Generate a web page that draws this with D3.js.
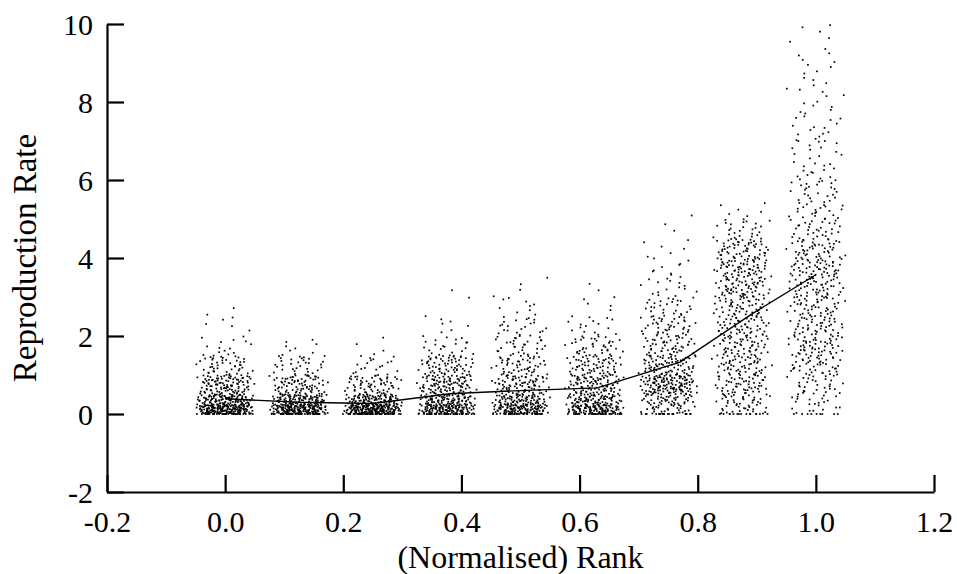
<!DOCTYPE html>
<html>
<head>
<meta charset="utf-8">
<script src="https://cdn.jsdelivr.net/npm/d3@7"></script>
<style>
  body { margin: 0; background: #fff; }
  text { font-family: "Liberation Serif", "DejaVu Serif", serif; fill: #000; }
</style>
</head>
<body>
<div id="chart"></div>
<script>
// rank groups (x centres of the jittered columns)
const groupRanks = [0.0, 0.125, 0.25, 0.375, 0.5, 0.625, 0.75, 0.875, 1.0];

// y bin edges used to describe each column's dot density
const binEdges = [0, 0.25, 0.5, 1, 1.5, 2, 2.5, 3, 3.5, 4, 4.5, 5, 5.5, 6, 6.5, 7, 7.5, 8, 8.5, 9, 9.5, 10];

// dots per bin (one row per group)
const binCounts = [
    [180, 100, 105, 45, 14, 5, 2],
    [180, 90, 80, 32, 8],
    [190, 90, 65, 18, 4],
    [130, 80, 105, 65, 22, 6, 2, 1],
    [120, 70, 85, 50, 32, 22, 9, 4],
    [110, 70, 95, 65, 40, 15, 6, 2],
    [30, 40, 135, 80, 50, 42, 28, 15, 10, 6, 2, 1],
    [20, 25, 55, 55, 55, 55, 55, 65, 70, 55, 25, 6],
    [10, 12, 30, 45, 50, 45, 45, 50, 55, 45, 30, 25, 22, 15, 12, 12, 10, 8, 6, 5, 5]
];

// dots sitting exactly on zero
const zeroCounts = [30, 40, 40, 40, 30, 30, 20, 15, 8];

// mean line
const meanRanks = [0.0, 0.125, 0.25, 0.38, 0.5, 0.63, 0.77, 0.89, 1.0];
const meanRates = [0.39, 0.3, 0.27, 0.52, 0.6, 0.67, 1.33, 2.55, 3.57];

const xTicks = [-0.2, 0.0, 0.2, 0.4, 0.6, 0.8, 1.0, 1.2];
const yTicks = [-2, 0, 2, 4, 6, 8, 10];

const width = 957, height = 574;
const margin = {left: 107, right: 23, top: 24, bottom: 82};

const svg = d3.select("#chart").append("svg")
    .attr("width", width)
    .attr("height", height);

const x = d3.scaleLinear().domain([-0.2, 1.2]).range([margin.left, width - margin.right]);
const y = d3.scaleLinear().domain([-2, 10]).range([height - margin.bottom, margin.top]);

// spread of the jitter around each rank
const jitter = 0.08;

// place dots inside each bin with a halton sequence so the layout is stable
function halton(i, b) {
    let f = 1, r = 0;
    while (i > 0) { f /= b; r += f * (i % b); i = Math.floor(i / b); }
    return r;
}
// soft edged offset: flat core with short ramps on both sides
function offset(i) {
    return ((halton(i, 2) + 0.3 * halton(i, 5)) - 0.65) * jitter;
}

const dots = [];
let n = 1;
groupRanks.forEach((rank, g) => {
    binCounts[g].forEach((c, k) => {
        const lo = binEdges[k], hi = binEdges[k + 1];
        for (let j = 0; j < c; j++, n++) {
            dots.push({x: rank + offset(n), y: lo + halton(n, 3) * (hi - lo)});
        }
    });
    for (let j = 0; j < zeroCounts[g]; j++, n++) {
        dots.push({x: rank + offset(n), y: 0});
    }
});

svg.append("g").selectAll("rect")
    .data(dots)
    .join("rect")
    .attr("x", d => x(d.x) - 0.85)
    .attr("y", d => y(d.y) - 0.85)
    .attr("width", 1.7)
    .attr("height", 1.7)
    .attr("fill", "#000");

const line = d3.line()
    .x((d, i) => x(meanRanks[i]))
    .y(d => y(d));

svg.append("path")
    .datum(meanRates)
    .attr("fill", "none")
    .attr("stroke", "#000")
    .attr("stroke-width", 1.4)
    .attr("d", line);

// plain hyphen for negatives, like the original
const fmtX = d => d3.format(".1f")(d).replace("\u2212", "-");
const fmtY = d => String(d);

// axes, ticks pointing inward
const xAxis = svg.append("g")
    .attr("transform", `translate(0, ${y(-2)})`)
    .call(d3.axisBottom(x).tickValues(xTicks).tickSize(-17).tickPadding(19).tickFormat(fmtX).tickSizeOuter(0));

const yAxis = svg.append("g")
    .attr("transform", `translate(${x(-0.2)}, 0)`)
    .call(d3.axisLeft(y).tickValues(yTicks).tickSize(-17).tickPadding(14).tickFormat(fmtY).tickSizeOuter(0));

[xAxis, yAxis].forEach(a => {
    a.select(".domain").attr("stroke-width", 2.2);
    a.selectAll(".tick line").attr("stroke-width", 2.2);
    a.selectAll(".tick text").attr("font-size", 30)
        .attr("font-family", "Liberation Serif, DejaVu Serif, serif");
});
xAxis.selectAll(".tick text").attr("dy", "0.71em");
yAxis.selectAll(".tick text").attr("dy", "0.35em");

svg.append("text")
    .attr("x", (x(-0.2) + x(1.2)) / 2)
    .attr("y", 568)
    .attr("text-anchor", "middle")
    .attr("font-size", 32)
    .text("(Normalised) Rank");

svg.append("text")
    .attr("transform", `translate(36, ${(y(-2) + y(10)) / 2}) rotate(-90)`)
    .attr("text-anchor", "middle")
    .attr("font-size", 33)
    .text("Reproduction Rate");
</script>
</body>
</html>
